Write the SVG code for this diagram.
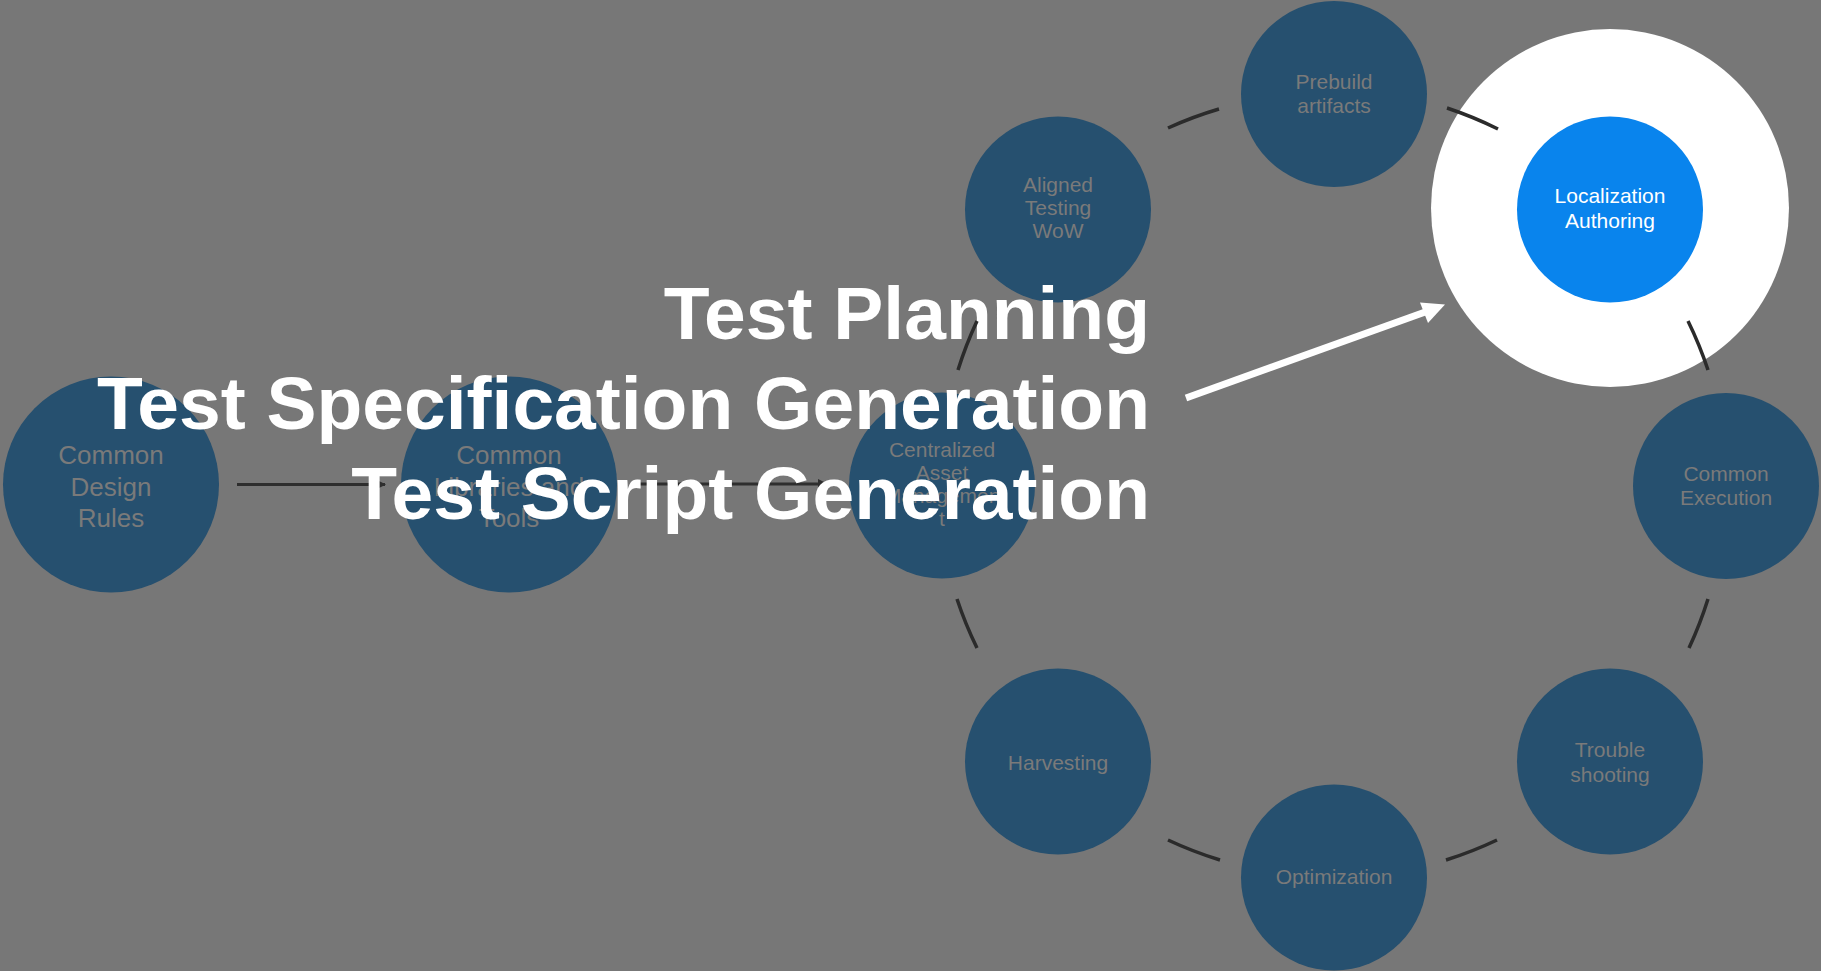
<svg xmlns="http://www.w3.org/2000/svg" width="1821" height="971" viewBox="0 0 1821 971">
  <style>
    .node { fill: #26506f; }
    .lbl { font-family: "Liberation Sans", Arial, sans-serif; fill: #7a7a7a; text-anchor: middle; }
    .s21 { font-size: 21px; }
    .s26 { font-size: 26px; }
    .hi { fill: #ffffff; }
    .link { stroke: #2e2e2e; stroke-width: 3; fill: none; }
    .arc { stroke: #2b2b2b; stroke-width: 3.5; fill: none; }
    .title { font-family: "Liberation Sans", Arial, sans-serif; font-weight: bold; font-size: 75px; fill: #ffffff; text-anchor: end; }
  </style>
  <defs>
    <marker id="head" viewBox="0 0 10 10" refX="9" refY="5" markerWidth="10" markerHeight="13" markerUnits="userSpaceOnUse" orient="auto">
      <path d="M0 0 L10 5 L0 10 Z" fill="#2e2e2e"/>
    </marker>
  </defs>

  <rect width="1821" height="971" fill="#777777"/>

  <!-- foundation nodes -->
  <g id="node-design-rules">
    <circle class="node" cx="111" cy="484.5" r="108"/>
    <text class="lbl s26" x="111" y="464">Common</text>
    <text class="lbl s26" x="111" y="496">Design</text>
    <text class="lbl s26" x="111" y="527">Rules</text>
  </g>
  <g id="node-libraries">
    <circle class="node" cx="509" cy="484.5" r="108"/>
    <text class="lbl s26" x="509" y="464">Common</text>
    <text class="lbl s26" x="509" y="496">Libraries and</text>
    <text class="lbl s26" x="509" y="527">Tools</text>
  </g>

  <!-- cycle nodes -->
  <g id="node-centralized">
    <circle class="node" cx="942" cy="485.5" r="93"/>
    <text class="lbl s21" x="942" y="457">Centralized</text>
    <text class="lbl s21" x="942" y="480">Asset</text>
    <text class="lbl s21" x="942" y="503">Managemen</text>
    <text class="lbl s21" x="942" y="526">t</text>
  </g>
  <g id="node-aligned">
    <circle class="node" cx="1058" cy="209.5" r="93"/>
    <text class="lbl s21" x="1058" y="192">Aligned</text>
    <text class="lbl s21" x="1058" y="215">Testing</text>
    <text class="lbl s21" x="1058" y="238">WoW</text>
  </g>
  <g id="node-prebuild">
    <circle class="node" cx="1334" cy="94" r="93"/>
    <text class="lbl s21" x="1334" y="89">Prebuild</text>
    <text class="lbl s21" x="1334" y="113">artifacts</text>
  </g>
  <g id="node-localization">
    <circle cx="1610" cy="208" r="179" fill="#ffffff"/>
    <circle cx="1610" cy="209.5" r="93" fill="#0984ed"/>
    <text class="lbl s21 hi" x="1610" y="203">Localization</text>
    <text class="lbl s21 hi" x="1610" y="228">Authoring</text>
  </g>
  <g id="node-execution">
    <circle class="node" cx="1726" cy="486" r="93"/>
    <text class="lbl s21" x="1726" y="481">Common</text>
    <text class="lbl s21" x="1726" y="505">Execution</text>
  </g>
  <g id="node-troubleshooting">
    <circle class="node" cx="1610" cy="761.5" r="93"/>
    <text class="lbl s21" x="1610" y="757">Trouble</text>
    <text class="lbl s21" x="1610" y="782">shooting</text>
  </g>
  <g id="node-optimization">
    <circle class="node" cx="1334" cy="877.5" r="93"/>
    <text class="lbl s21" x="1334" y="884">Optimization</text>
  </g>
  <g id="node-harvesting">
    <circle class="node" cx="1058" cy="761.5" r="93"/>
    <text class="lbl s21" x="1058" y="770">Harvesting</text>
  </g>

  <!-- straight links into the cycle -->
  <g id="connectors">
    <line class="link" x1="237" y1="484.5" x2="385" y2="484.5" marker-end="url(#head)"/>
    <line class="link" x1="633" y1="484" x2="827" y2="484" marker-end="url(#head)"/>
  </g>

  <!-- headline -->
  <g id="headline">
    <text class="title" x="1150" y="339">Test Planning</text>
    <text class="title" x="1150" y="429">Test Specification Generation</text>
    <text class="title" x="1150" y="519">Test Script Generation</text>
  </g>

  <!-- ring segments between cycle nodes -->
  <g id="cycle-connectors">
    <path class="arc" d="M958 370 A391 391 0 0 1 977 321"/>
    <path class="arc" d="M1168 128 A391 391 0 0 1 1219 109"/>
    <path class="arc" d="M1447 108 A391 391 0 0 1 1498 129"/>
    <path class="arc" d="M1688 321 A391 391 0 0 1 1708 370"/>
    <path class="arc" d="M1708 599 A391 391 0 0 1 1689 648"/>
    <path class="arc" d="M1497 840 A391 391 0 0 1 1446 860"/>
    <path class="arc" d="M1220 860 A391 391 0 0 1 1168 840"/>
    <path class="arc" d="M977 648 A391 391 0 0 1 957 599"/>
  </g>

  <!-- pointer to the highlighted node -->
  <g id="pointer">
    <line x1="1186" y1="398" x2="1428" y2="311" stroke="#ffffff" stroke-width="7"/>
    <path d="M1445 304.5 L1420 302.5 L1428 323 Z" fill="#ffffff"/>
  </g>
</svg>
